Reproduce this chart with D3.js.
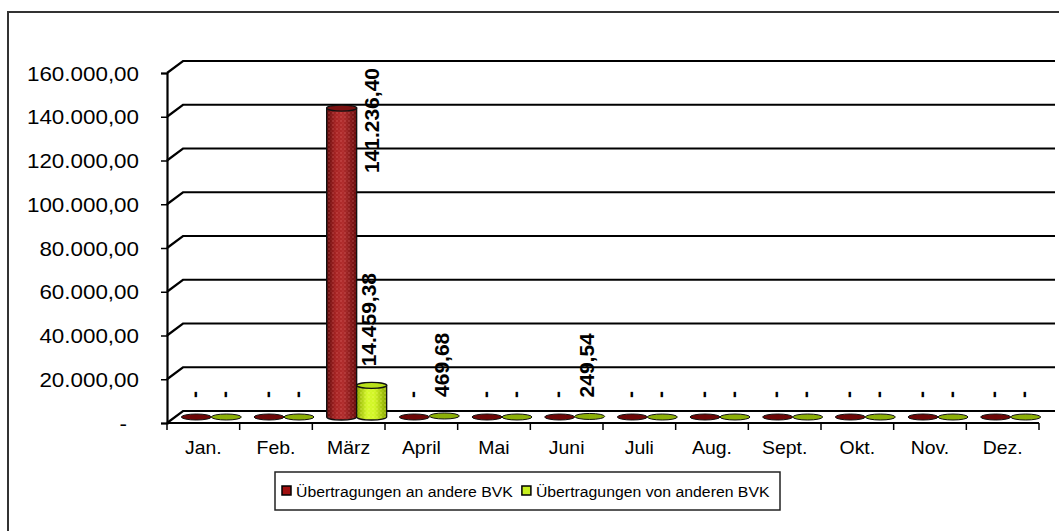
<!DOCTYPE html>
<html>
<head>
<meta charset="utf-8">
<script src="https://cdn.jsdelivr.net/npm/d3@7"></script>
<style>
  body { margin: 0; background: #fff; }
  svg { display: block; font-family: "Liberation Sans", Arial, sans-serif; }
</style>
</head>
<body>
<script>
var W = 1059, H = 531;

// data
var months = ["Jan.", "Feb.", "März", "April", "Mai", "Juni", "Juli", "Aug.", "Sept.", "Okt.", "Nov.", "Dez."];
var anAndere = [0, 0, 141236.40, 0, 0, 0, 0, 0, 0, 0, 0, 0];
var vonAnderen = [0, 0, 14459.38, 469.68, 0, 249.54, 0, 0, 0, 0, 0, 0];
var seriesNames = ["Übertragungen an andere BVK", "Übertragungen von anderen BVK"];
var yTicks = [0, 20000, 40000, 60000, 80000, 100000, 120000, 140000, 160000];

var de = d3.formatLocale({decimal: ",", thousands: ".", grouping: [3], currency: ["", ""]});
var fmt = de.format(",.2f");
function lab(v) { return v === 0 ? "-" : fmt(v); }

var svg = d3.select("body").append("svg")
    .attr("width", W)
    .attr("height", H);

// 3d depth of the plot
var DX = 16, DY = -12;
var MX = DX / 2, MY = DY / 2;

var x = d3.scaleBand().domain(months).range([167, 1039]).padding(0);
var y = d3.scaleLinear().domain([0, 160000]).range([423, 73]);
var xs = d3.scaleBand().domain([0, 1]).range([-30, 30]);

var defs = svg.append("defs");
function grad(id, stops) {
    var g = defs.append("linearGradient").attr("id", id)
        .attr("x1", "0%").attr("x2", "100%").attr("y1", "0%").attr("y2", "0%");
    stops.forEach(function(s) {
        g.append("stop").attr("offset", s[0]).attr("stop-color", s[1]);
    });
}
grad("gRed", [["0%", "#5e0a0a"], ["30%", "#a82424"], ["55%", "#b02c2c"], ["100%", "#640b0b"]]);
grad("gGreen", [["0%", "#8aa800"], ["35%", "#d4f82c"], ["60%", "#d0f526"], ["100%", "#86a400"]]);
function dots(id, col, op) {
    var p = defs.append("pattern").attr("id", id)
        .attr("width", 4).attr("height", 4).attr("patternUnits", "userSpaceOnUse");
    p.append("circle").attr("cx", 1).attr("cy", 1).attr("r", 0.7).attr("fill", col).attr("opacity", op);
    p.append("circle").attr("cx", 3).attr("cy", 3).attr("r", 0.5).attr("fill", col).attr("opacity", op * 0.7);
}
dots("dRed", "#ff9a9a", 0.45);
dots("dGreen", "#ffff80", 0.6);

var seriesStyle = [
    {body: "url(#gRed)", dots: "url(#dRed)", top: "#7a1212", flat: "#6e0707", legend: "#a01010"},
    {body: "url(#gGreen)", dots: "url(#dGreen)", top: "#b8e01a", flat: "#8caf08", legend: "#c8f020"}
];

// outer frame
svg.append("rect")
    .attr("x", 8).attr("y", 12)
    .attr("width", W + 20).attr("height", H + 20)
    .attr("fill", "none").attr("stroke", "#333").attr("stroke-width", 2);

// gridlines on the back wall
var xEnd = x.range()[1];
svg.append("g").selectAll("path")
    .data(yTicks.filter(function(d) { return d > 0; }))
    .enter().append("path")
    .attr("d", function(d) {
        var yy = y(d);
        return "M" + x.range()[0] + "," + yy + "L" + (x.range()[0] + DX) + "," + (yy + DY) +
            "L" + (xEnd + DX) + "," + (yy + DY);
    })
    .attr("fill", "none").attr("stroke", "#000").attr("stroke-width", 2.2);

// floor
var y0 = y(0);
svg.append("path")
    .attr("d", "M" + x.range()[0] + "," + y0 + "L" + (x.range()[0] + DX) + "," + (y0 + DY) +
        "L" + (xEnd + DX) + "," + (y0 + DY) + "L" + xEnd + "," + y0 + "Z")
    .attr("fill", "#fff").attr("stroke", "none");
svg.append("path")
    .attr("d", "M" + x.range()[0] + "," + y0 + "L" + (x.range()[0] + DX) + "," + (y0 + DY) +
        "L" + (xEnd + DX) + "," + (y0 + DY))
    .attr("fill", "none").attr("stroke", "#000").attr("stroke-width", 2.2);
svg.append("line")
    .attr("x1", x.range()[0]).attr("x2", xEnd)
    .attr("y1", y0).attr("y2", y0)
    .attr("stroke", "#000").attr("stroke-width", 2.2);

// y axis
var yAxis = svg.append("g")
    .attr("transform", "translate(" + x.range()[0] + ",0)")
    .call(d3.axisLeft(y).tickValues(yTicks).tickSize(6).tickFormat(lab));
yAxis.attr("font-family", null).attr("font-size", null);
yAxis.select(".domain").attr("stroke", "#000").attr("stroke-width", 2.2);
yAxis.selectAll(".tick line").attr("stroke", "#000").attr("stroke-width", 1.5);
yAxis.selectAll(".tick text")
    .attr("x", null).attr("dy", "0.36em")
    .attr("transform", function(d) { return "translate(" + (d === 0 ? -40 : -28) + ",0) scale(1.12,1)"; })
    .style("font-size", "20px").attr("fill", "#000");

// x ticks at band edges
var edges = months.map(function(m) { return x(m); }).concat([xEnd]);
svg.append("g").selectAll("line")
    .data(edges).enter().append("line")
    .attr("x1", function(d) { return d; }).attr("x2", function(d) { return d; })
    .attr("y1", y0).attr("y2", y0 + 7)
    .attr("stroke", "#000").attr("stroke-width", 1.5);

svg.append("g").selectAll("text")
    .data(months).enter().append("text")
    .attr("transform", function(d) {
        return "translate(" + (x(d) + x.bandwidth() / 2) + "," + (y0 + 31) + ") scale(1.08,1)";
    })
    .attr("text-anchor", "middle")
    .style("font-size", "18px")
    .text(function(d) { return d; });

// cylinders
var series = [anAndere, vonAnderen];
var R = 15, RY = 3;
var bars = [];
series.forEach(function(vals, s) {
    vals.forEach(function(v, i) {
        var cx = x(months[i]) + x.bandwidth() / 2 + MX + xs(s) + xs.bandwidth() / 2;
        bars.push({s: s, i: i, v: v, cx: cx, base: y(0) + MY, top: y(v) + MY});
    });
});
// draw in month order so neighbours overlap like the picture
bars.sort(function(a, b) { return a.i - b.i || a.s - b.s; });

var gb = svg.append("g");
bars.forEach(function(b) {
    var st = seriesStyle[b.s];
    if (b.base - b.top < 1.5) {
        gb.append("ellipse")
            .attr("cx", b.cx).attr("cy", b.top)
            .attr("rx", R).attr("ry", RY)
            .attr("fill", st.flat).attr("stroke", "#111").attr("stroke-width", 1);
        return;
    }
    var body = "M" + (b.cx - R) + "," + b.top + "L" + (b.cx - R) + "," + b.base +
        "A" + R + "," + RY + " 0 0 0 " + (b.cx + R) + "," + b.base +
        "L" + (b.cx + R) + "," + b.top + "Z";
    gb.append("path").attr("d", body).attr("fill", st.body);
    gb.append("path").attr("d", body).attr("fill", st.dots);
    gb.append("path").attr("d", body).attr("fill", "none").attr("stroke", "#111").attr("stroke-width", 1.3);
    gb.append("ellipse")
        .attr("cx", b.cx).attr("cy", b.top)
        .attr("rx", R).attr("ry", RY)
        .attr("fill", st.top).attr("stroke", "#111").attr("stroke-width", 1.3);
});

// data labels, rotated
var gl = svg.append("g");
bars.forEach(function(b) {
    var t = gl.append("text")
        .style("font-size", "21px").style("font-weight", "bold")
        .attr("text-anchor", "start")
        .attr("dy", "0.36em")
        .text(lab(b.v));
    var len = t.node().getComputedTextLength();
    var start = b.top - 19, lx = b.cx - 3;
    if (start - len < 68) {  // keep inside the plot, move next to the bar
        start = 68 + len;
        lx = b.cx + 30;
    }
    t.attr("transform", "translate(" + lx + "," + start + ") rotate(-90)");
});

// legend
var lg = svg.append("g");
lg.append("rect")
    .attr("x", 275).attr("y", 472).attr("width", 505).attr("height", 38)
    .attr("fill", "#fff").attr("stroke", "#222").attr("stroke-width", 1.5);
var lx = 282;
seriesNames.forEach(function(name, s) {
    lg.append("rect")
        .attr("x", lx).attr("y", 486).attr("width", 9).attr("height", 9)
        .attr("fill", seriesStyle[s].legend).attr("stroke", "#000").attr("stroke-width", 1.5);
    var t = lg.append("text")
        .attr("transform", "translate(" + (lx + 14) + ",497) scale(1.02,1)")
        .style("font-size", "15.5px")
        .text(name);
    lx = lx + 14 + t.node().getComputedTextLength() * 1.02 + 9;
});
</script>
</body>
</html>
